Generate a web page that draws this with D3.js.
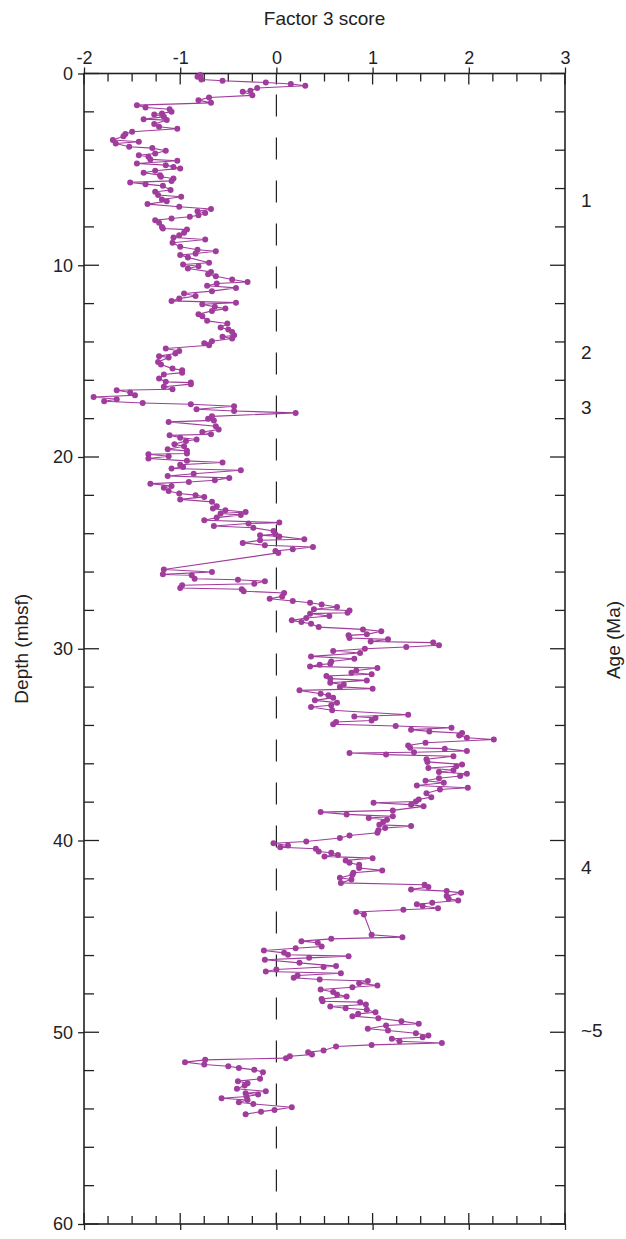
<!DOCTYPE html>
<html>
<head>
<meta charset="utf-8">
<script src="https://cdn.jsdelivr.net/npm/d3@7"></script>
<style>
  body { margin: 0; background: #fff; }
  text { font-family: "Liberation Sans", Arial, sans-serif; fill: #222; }
</style>
</head>
<body>
<svg id="chart" width="626" height="1239"></svg>
<script>
// depth (mbsf) of each sample
var depth = [
  0.08,0.17,0.31,0.38,0.47,0.55,0.64,0.76,0.90,0.95,1.14,1.25,1.39,1.53,1.65,1.77,1.86,2.00,2.08,2.14,
  2.26,2.38,2.43,2.64,2.78,2.88,3.04,3.16,3.27,3.47,3.56,3.65,3.82,3.89,4.03,4.17,4.26,4.34,4.48,4.55,
  4.69,4.78,4.87,4.95,5.07,5.18,5.30,5.39,5.48,5.60,5.68,5.77,5.86,6.08,6.17,6.34,6.43,6.57,6.66,6.81,
  6.95,7.07,7.18,7.27,7.39,7.47,7.56,7.65,7.79,8.00,8.08,8.14,8.31,8.43,8.55,8.66,8.83,9.04,9.19,9.27,
  9.39,9.47,9.59,9.87,9.96,10.05,10.17,10.35,10.47,10.57,10.74,10.87,10.95,11.07,11.18,11.35,11.47,11.60,11.74,11.86,
  11.95,12.03,12.17,12.26,12.38,12.55,12.66,12.90,13.04,13.25,13.35,13.48,13.65,13.73,13.82,13.96,14.07,14.17,14.34,14.47,
  14.60,14.74,14.81,15.04,15.18,15.39,15.48,15.60,15.70,15.91,16.08,16.12,16.20,16.34,16.47,16.52,16.64,16.78,16.87,16.99,
  17.09,17.18,17.25,17.35,17.51,17.60,17.70,17.88,18.00,18.09,18.17,18.40,18.57,18.70,18.81,18.87,18.99,19.09,19.16,19.34,
  19.44,19.60,19.68,19.82,19.86,19.96,20.08,20.20,20.29,20.40,20.52,20.60,20.69,20.87,20.99,21.09,21.21,21.30,21.39,21.51,
  21.61,21.77,21.90,21.99,22.08,22.21,22.34,22.57,22.69,22.78,22.87,22.95,23.02,23.16,23.30,23.42,23.47,23.60,23.69,23.86,
  24.03,24.08,24.14,24.29,24.34,24.48,24.60,24.69,24.81,24.90,25.00,25.87,26.00,26.12,26.17,26.35,26.40,26.48,26.61,26.69,
  26.83,26.90,27.00,27.09,27.27,27.39,27.51,27.60,27.69,27.82,27.94,28.00,28.12,28.17,28.29,28.40,28.52,28.61,28.70,28.87,
  28.99,29.09,29.25,29.30,29.44,29.51,29.62,29.68,29.82,29.91,30.00,30.12,30.22,30.40,30.52,30.66,30.78,30.83,30.92,31.00,
  31.13,31.25,31.33,31.42,31.56,31.65,31.77,31.87,31.99,32.08,32.17,32.35,32.43,32.55,32.69,32.81,32.95,33.04,33.21,33.44,
  33.53,33.61,33.74,33.82,33.94,34.03,34.12,34.22,34.31,34.40,34.52,34.64,34.73,34.90,35.04,35.16,35.21,35.33,35.40,35.44,
  35.52,35.61,35.76,35.90,36.03,36.13,36.22,36.34,36.43,36.52,36.64,36.75,36.88,36.99,37.13,37.25,37.34,37.53,37.74,37.86,
  37.97,38.03,38.13,38.22,38.43,38.52,38.64,38.74,38.83,38.92,39.04,39.18,39.25,39.35,39.47,39.60,39.74,39.87,40.05,40.14,
  40.26,40.35,40.43,40.57,40.64,40.75,40.83,40.92,41.04,41.16,41.27,41.44,41.56,41.68,41.79,41.94,42.03,42.21,42.31,42.43,
  42.55,42.64,42.73,42.90,43.04,43.13,43.25,43.33,43.42,43.53,43.61,43.73,43.86,44.92,45.04,45.13,45.25,45.33,45.53,45.62,
  45.74,45.86,45.96,46.03,46.12,46.22,46.38,46.55,46.60,46.73,46.83,46.92,47.04,47.16,47.25,47.33,47.44,47.56,47.65,47.77,
  47.90,48.03,48.13,48.26,48.38,48.43,48.55,48.66,48.75,48.83,48.96,49.04,49.16,49.27,49.42,49.56,49.65,49.82,49.91,50.05,
  50.17,50.26,50.34,50.47,50.56,50.66,50.74,50.95,51.04,51.16,51.25,51.35,51.44,51.56,51.68,51.77,51.86,51.96,52.08,52.43,
  52.55,52.66,52.78,52.95,53.08,53.18,53.25,53.35,53.44,53.53,53.65,53.74,53.91,54.05,54.14,54.27
];

// factor 3 score for each sample, same order as depth
var score = [
  -0.79,-0.82,-0.78,-0.56,-0.11,0.15,0.30,-0.20,-0.27,-0.35,-0.25,-0.70,-0.81,-0.68,-1.45,-1.36,-1.11,-1.09,-1.19,-1.27,
  -1.17,-1.38,-1.14,-1.27,-1.22,-1.03,-1.50,-1.57,-1.59,-1.70,-1.43,-1.67,-1.53,-1.29,-1.15,-1.26,-1.43,-1.33,-1.31,-1.03,
  -1.45,-1.15,-1.07,-1.00,-1.26,-1.38,-1.21,-1.20,-1.07,-1.09,-1.52,-1.36,-1.18,-1.10,-1.26,-1.23,-0.99,-1.19,-1.14,-1.34,
  -1.01,-0.68,-0.82,-0.74,-0.81,-0.90,-1.09,-1.26,-1.22,-1.19,-1.18,-0.93,-0.96,-1.01,-1.07,-0.74,-1.08,-1.00,-0.82,-0.63,
  -0.84,-1.00,-0.92,-0.70,-0.97,-0.81,-0.92,-0.68,-0.71,-0.63,-0.46,-0.30,-0.62,-0.72,-0.42,-0.67,-0.96,-0.84,-1.01,-1.09,
  -0.42,-0.77,-0.64,-0.53,-0.67,-0.81,-0.77,-0.72,-0.51,-0.58,-0.50,-0.46,-0.44,-0.56,-0.46,-0.67,-0.75,-0.70,-1.15,-1.01,
  -1.05,-1.22,-1.12,-1.23,-1.20,-1.08,-0.98,-0.98,-1.17,-1.22,-1.15,-0.89,-0.89,-1.17,-1.08,-1.66,-1.52,-1.47,-1.90,-1.66,
  -1.79,-1.39,-0.89,-0.44,-0.83,-0.44,0.20,-0.67,-0.71,-0.65,-1.12,-0.63,-0.60,-0.77,-0.68,-1.11,-1.00,-0.83,-0.94,-1.06,
  -0.96,-1.13,-0.93,-0.93,-1.33,-1.12,-1.33,-0.93,-0.56,-1.00,-0.97,-1.09,-0.37,-0.86,-1.13,-0.49,-0.64,-0.91,-1.31,-1.09,
  -1.17,-1.12,-1.01,-0.84,-0.75,-1.00,-0.67,-0.62,-0.66,-0.53,-0.32,-0.58,-0.37,-0.62,-0.75,0.03,-0.29,-0.65,-0.24,-0.03,
  -0.01,-0.17,0.03,0.29,-0.17,-0.35,-0.12,0.38,0.17,-0.01,0.02,-1.17,-0.67,-1.18,-0.88,-0.85,-0.40,-0.12,-0.23,-0.98,
  -1.00,-0.36,-0.34,0.08,0.06,-0.07,0.17,0.35,0.47,0.63,0.39,0.76,0.74,0.35,0.55,0.31,0.16,0.26,0.36,0.44,
  0.90,1.09,0.94,0.75,0.76,1.16,0.98,1.63,1.69,1.35,0.92,0.59,0.87,0.36,0.81,0.57,0.56,0.45,0.35,1.05,
  0.83,0.78,0.99,0.52,0.56,0.94,0.56,0.70,0.66,1.00,0.24,0.46,0.54,0.59,0.40,0.63,0.57,0.36,0.58,1.37,
  0.81,1.03,0.99,0.62,0.59,1.24,1.82,1.40,1.59,1.93,1.90,1.98,2.26,1.55,1.37,1.39,1.75,1.98,1.43,0.76,
  1.14,1.84,1.56,1.57,1.93,1.87,1.58,1.84,1.69,1.98,1.91,1.69,1.55,1.74,1.46,1.99,1.70,1.56,1.61,1.48,
  1.45,1.01,1.40,1.53,1.21,0.46,0.73,1.21,0.96,1.15,1.11,1.07,1.40,1.13,1.06,1.05,0.76,0.66,0.31,-0.03,
  0.12,0.04,0.41,0.44,0.57,0.64,0.50,1.00,0.72,0.76,0.86,0.86,1.10,0.80,0.79,0.66,0.78,0.67,1.54,1.58,
  1.40,1.77,1.92,1.77,1.79,1.89,1.62,1.46,1.52,1.68,1.32,0.83,0.91,0.99,1.31,0.57,0.26,0.43,0.47,0.20,
  -0.13,0.08,0.12,0.75,0.34,-0.12,0.24,0.62,0.49,0.00,-0.11,0.67,0.22,0.18,0.45,0.95,0.86,1.05,0.79,0.46,
  0.59,0.63,0.73,0.47,0.48,0.87,0.93,0.56,0.72,0.94,1.03,0.85,0.79,1.06,1.30,1.48,1.14,0.95,1.16,1.45,
  1.58,1.52,1.20,1.28,1.72,0.99,0.62,0.49,0.33,0.37,0.14,0.10,-0.74,-0.95,-0.75,-0.50,-0.39,-0.23,-0.14,-0.17,
  -0.40,-0.30,-0.33,-0.41,-0.11,-0.32,-0.19,-0.31,-0.57,-0.30,-0.39,-0.24,0.16,-0.02,-0.16,-0.32
];

var xTicks = [-2, -1, 0, 1, 2, 3];
var yTicks = [0, 10, 20, 30, 40, 50, 60];

// age annotations on the right side: label and the depth it sits at
var ageLabels = ['1', '2', '3', '4', '~5'];
var ageDepths = [6.6, 14.5, 17.4, 41.4, 49.9];

var svg = d3.select('#chart');
var plotL = 84, plotR = 565, plotT = 73.5, plotB = 1224;
var font = '"Liberation Sans", Arial, sans-serif';

var x = d3.scaleLinear().domain([-2, 3]).range([plotL, plotR]);
var y = d3.scaleLinear().domain([0, 60]).range([plotT, plotB]);

var data = depth.map(function (d, i) { return { depth: d, score: score[i] }; });

// minor ticks every 0.25 on the score axis, every 2 m on the depth axis
var xMinor = d3.range(-2, 3.001, 0.25);
var yMinor = d3.range(0, 60.001, 2);

// top axis (plain hyphen for the minus sign, like the original)
svg.append('g')
  .attr('transform', 'translate(0,' + plotT + ')')
  .call(d3.axisTop(x).tickValues(xTicks).tickSize(6).tickPadding(4).tickFormat(function (d) { return String(d); }))
  .call(function (g) {
    g.select('.domain').remove();
    g.selectAll('text').attr('font-size', 18).attr('fill', '#222').attr('font-family', font);
    g.selectAll('line').attr('stroke', '#222').attr('stroke-width', 1.3);
  });
// bottom axis, no labels
svg.append('g')
  .attr('transform', 'translate(0,' + plotB + ')')
  .call(d3.axisBottom(x).tickValues(xTicks).tickSize(6).tickFormat(''))
  .call(function (g) {
    g.select('.domain').remove();
    g.selectAll('line').attr('stroke', '#222').attr('stroke-width', 1.3);
  });
// left axis
svg.append('g')
  .attr('transform', 'translate(' + plotL + ',0)')
  .call(d3.axisLeft(y).tickValues(yTicks).tickSize(6).tickPadding(5))
  .call(function (g) {
    g.select('.domain').remove();
    g.selectAll('text').attr('font-size', 18).attr('fill', '#222').attr('font-family', font);
    g.selectAll('line').attr('stroke', '#222').attr('stroke-width', 1.3);
  });

// inward ticks on all four sides
var tickG = svg.append('g').attr('stroke', '#222').attr('stroke-width', 1.3);
xMinor.forEach(function (v) {
  var len = Number.isInteger(v) ? 11 : 8;
  tickG.append('line').attr('x1', x(v)).attr('x2', x(v)).attr('y1', plotT).attr('y2', plotT + len);
  tickG.append('line').attr('x1', x(v)).attr('x2', x(v)).attr('y1', plotB).attr('y2', plotB - len);
});
yMinor.forEach(function (v) {
  var len = v % 10 === 0 ? 15 : 10;
  tickG.append('line').attr('x1', plotL).attr('x2', plotL + len).attr('y1', y(v)).attr('y2', y(v));
  tickG.append('line').attr('x1', plotR).attr('x2', plotR - len).attr('y1', y(v)).attr('y2', y(v));
});

// frame
svg.append('rect')
  .attr('x', plotL).attr('y', plotT)
  .attr('width', plotR - plotL).attr('height', plotB - plotT)
  .attr('fill', 'none').attr('stroke', '#222').attr('stroke-width', 1.6);

// dashed zero line
svg.append('line')
  .attr('x1', x(0)).attr('x2', x(0))
  .attr('y1', plotT).attr('y2', plotB)
  .attr('stroke', '#222').attr('stroke-width', 1.2)
  .attr('stroke-dasharray', '22,21').attr('stroke-dashoffset', 22);

// the series
var line = d3.line()
  .x(function (d) { return x(d.score); })
  .y(function (d) { return y(d.depth); });

svg.append('path')
  .datum(data)
  .attr('d', line)
  .attr('fill', 'none')
  .attr('stroke', '#a03c9c')
  .attr('stroke-width', 1.1);

svg.append('g')
  .selectAll('circle')
  .data(data)
  .enter()
  .append('circle')
  .attr('cx', function (d) { return x(d.score); })
  .attr('cy', function (d) { return y(d.depth); })
  .attr('r', 3)
  .attr('fill', '#a03c9c');

// titles
svg.append('text')
  .attr('x', (plotL + plotR) / 2).attr('y', 25)
  .attr('text-anchor', 'middle').attr('font-size', 19)
  .text('Factor 3 score');

svg.append('text')
  .attr('transform', 'translate(28,' + (plotT + plotB) / 2 + ') rotate(-90)')
  .attr('text-anchor', 'middle').attr('font-size', 19)
  .text('Depth (mbsf)');

svg.append('text')
  .attr('transform', 'translate(620,640) rotate(-90)')
  .attr('text-anchor', 'middle').attr('font-size', 19)
  .text('Age (Ma)');

svg.append('g')
  .selectAll('text')
  .data(ageLabels)
  .enter()
  .append('text')
  .attr('x', 581)
  .attr('y', function (d, i) { return y(ageDepths[i]) + 7; })
  .attr('font-size', 19)
  .text(function (d) { return d; });
</script>
</body>
</html>
